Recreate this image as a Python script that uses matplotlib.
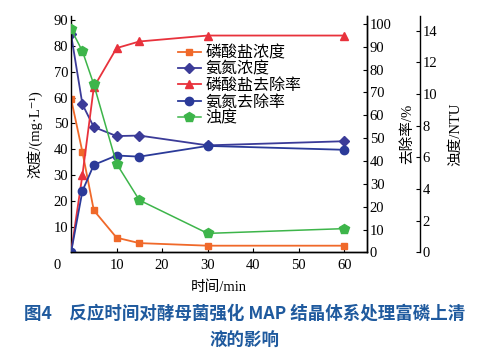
import matplotlib.pyplot as plt
from matplotlib.transforms import ScaledTranslation

plt.rcParams['font.family'] = ['Liberation Serif', 'Noto Sans CJK SC', 'DejaVu Sans']

# time (min)
t = [0, 2.5, 5, 10, 15, 30, 60]
# concentrations, mg/L (left axis)
p_conc = [59.6, 38.9, 16.3, 5.7, 3.6, 2.6, 2.6]
n_conc = [84.5, 57.4, 48.6, 45.1, 45.3, 41.5, 43.1]
# removal rate, % (right axis)
p_rate = [0, 33.9, 72.3, 89.4, 92.3, 94.9, 94.9]
n_rate = [0, 26.9, 38.3, 42.4, 41.9, 46.6, 44.9]
# turbidity, NTU (second right axis)
turb = [14.1, 12.7, 10.6, 5.6, 3.3, 1.2, 1.5]

labels = ['磷酸盐浓度', '氨氮浓度', '磷酸盐去除率', '氨氮去除率', '浊度']

c_orange = '#f0692a'
c_navy = '#3b3b98'
c_red = '#e8323c'
c_blue = '#2b3a99'
c_green = '#3db54a'

fig = plt.figure(figsize=(4.9, 3.53), dpi=100)
ax = fig.add_axes([0.145, 0.285, 0.604, 0.67])
ax2 = ax.twinx()
ax3 = ax.twinx()
ax3.spines['right'].set_position(('axes', 1.179))

h1, = ax.plot(t, p_conc, '-s', color=c_orange, ms=5, lw=1.3)
h2, = ax.plot(t, n_conc, '-D', color=c_navy, ms=5, lw=1.3)
h3, = ax2.plot(t, p_rate, '-^', color=c_red, ms=6, lw=1.3)
h4, = ax2.plot(t, n_rate, '-o', color=c_blue, ms=6, lw=1.3)
h5, = ax3.plot(t, turb, '-p', color=c_green, ms=7, lw=1.1)

ax.set_xlim(0, 65)
ax.set_ylim(0, 91.7)
ax2.set_ylim(0, 103.5)
ax3.set_ylim(0, 14.93)

ax.set_xticks(range(0, 61, 10))
ax.set_yticks(range(10, 91, 10))
ax2.set_yticks(range(0, 101, 10))
ax3.set_yticks(range(0, 15, 2))

for a in (ax, ax2, ax3):
    a.tick_params(direction='in', labelsize=10.5, length=3, pad=2, width=0.8)
    for s in a.spines.values():
        s.set_linewidth(1.0)
ax.tick_params(axis='x', pad=5)
ax.spines['top'].set_visible(False)
ax2.spines['top'].set_visible(False)
ax3.spines['top'].set_visible(False)
ax3.spines['left'].set_visible(False)
ax3.spines['bottom'].set_visible(False)
ax2.spines['left'].set_visible(False)

# shift the x "0" label left of the origin
lbl0 = ax.get_xticklabels()[0]
lbl0.set_transform(lbl0.get_transform() + ScaledTranslation(-10 / 72, 0, fig.dpi_scale_trans))

ax.set_xlabel('时间/min', fontsize=10.5, labelpad=6)
ax.set_ylabel('浓度/(mg·L⁻¹)', fontsize=10.5, labelpad=8)
ax2.set_ylabel('去除率/%', fontsize=10.5, labelpad=6)
ax3.set_ylabel('浊度/NTU', fontsize=10.5, labelpad=8)

ax.legend([h1, h2, h3, h4, h5], labels, loc='upper left', bbox_to_anchor=(0.362, 0.875),
          frameon=False, fontsize=11.5, handlelength=1.4, handletextpad=0.3,
          labelspacing=0.02, borderaxespad=0, borderpad=0)

cap_font = ['Noto Sans CJK SC', 'DejaVu Sans']
fig.text(0.5, 0.113, '图4　反应时间对酵母菌强化 MAP 结晶体系处理富磷上清',
         ha='center', va='center', fontsize=12.6, color='#1f5a9e',
         fontweight='bold', family=cap_font)
fig.text(0.5, 0.033, '液的影响', ha='center', va='center', fontsize=12.6,
         color='#1f5a9e', fontweight='bold', family=cap_font)

fig.savefig('out.png', dpi=100)
